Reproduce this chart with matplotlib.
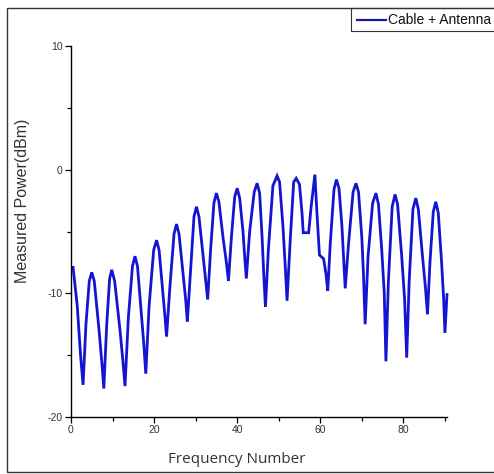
import matplotlib
matplotlib.use("Agg")
import matplotlib.pyplot as plt
from matplotlib.lines import Line2D
from matplotlib.patches import Rectangle
import matplotlib.ticker as ticker

plt.rcParams['axes.unicode_minus'] = False

# values (peak / trough positions plus shoulders)
freq_number = [
    0.5, 1.5, 2.3, 2.9, 3.6, 4.4, 5.0, 5.6, 6.7, 7.4,
    7.9, 8.6, 9.3, 9.8, 10.5, 11.8, 12.5, 13.0, 13.8, 14.8,
    15.4, 16.0, 16.9, 17.5, 18.0, 18.8, 19.9, 20.6, 21.2, 22.0,
    22.6, 23.0, 23.8, 24.8, 25.4, 26.0, 27.0, 27.6, 28.0, 28.8,
    29.6, 30.2, 30.8, 31.8, 32.4, 32.9, 33.6, 34.4, 35.0, 35.6,
    36.6, 37.4, 37.9, 38.6, 39.4, 40.0, 40.6, 41.4, 41.8, 42.2,
    43.0, 44.1, 44.8, 45.4, 46.0, 46.4, 46.8, 47.5, 48.6, 49.6,
    50.2, 51.0, 51.6, 52.0, 52.8, 53.6, 54.2, 55.0, 55.6, 55.9,
    57.2, 57.8, 58.7, 59.2, 59.8, 60.8, 61.4, 61.8, 62.4, 63.3,
    63.9, 64.5, 65.2, 65.6, 66.0, 66.8, 67.9, 68.6, 69.2, 70.0,
    70.4, 70.8, 71.5, 72.6, 73.4, 74.0, 74.8, 75.4, 75.8, 76.4,
    77.3, 78.0, 78.6, 79.6, 80.3, 80.8, 81.4, 82.3, 83.0, 83.6,
    84.6, 85.3, 85.8, 86.4, 87.2, 87.8, 88.4, 89.2, 89.7, 90.0,
    90.5,
]
measured_power = [
    -7.9, -11.0, -15.0, -17.4, -12.5, -9.0, -8.3, -9.0, -12.8, -15.5,
    -17.7, -12.5, -8.8, -8.1, -9.0, -13.0, -15.5, -17.5, -12.0, -7.8,
    -7.0, -7.8, -11.5, -14.0, -16.5, -11.0, -6.5, -5.7, -6.5, -9.5,
    -11.8, -13.5, -9.5, -5.2, -4.4, -5.2, -8.5, -10.5, -12.3, -8.0,
    -3.8, -3.0, -3.8, -7.0, -9.0, -10.5, -6.5, -2.7, -1.9, -2.6,
    -5.5, -7.5, -9.0, -5.5, -2.2, -1.5, -2.3, -5.0, -7.0, -8.8,
    -5.0, -1.8, -1.1, -1.9, -5.5, -8.5, -11.1, -6.5, -1.3, -0.5,
    -1.0, -4.5, -8.0, -10.6, -5.5, -1.0, -0.7, -1.2, -3.5, -5.1,
    -5.1, -3.0, -0.4, -3.5, -6.9, -7.2, -8.5, -9.8, -6.0, -1.6,
    -0.8, -1.5, -4.5, -7.0, -9.6, -6.0, -1.8, -1.1, -1.8, -5.5,
    -8.5, -12.5, -7.0, -2.7, -1.9, -2.8, -6.5, -10.0, -15.5, -9.0,
    -3.0, -2.0, -2.8, -7.0, -10.5, -15.2, -9.0, -3.2, -2.3, -3.2,
    -7.0, -9.5, -11.7, -7.5, -3.4, -2.6, -3.5, -7.5, -10.5, -13.2,
    -10.1,
]
x_ticks = [0, 20, 40, 60, 80]
y_ticks = [-20, -10, 0, 10]
series_label = "Cable + Antenna"

W, H = 494, 474
fig = plt.figure(figsize=(W / 100, H / 100), dpi=100)
ax = fig.add_axes([71 / W, (H - 417) / H, 376 / W, 371 / H])

line_color = "#1414d2"
ax.plot(freq_number, measured_power, color=line_color, linewidth=2.0,
        solid_joinstyle="miter", clip_on=False)

ax.set_xlim(0, 90.5)
ax.set_ylim(-20, 10)
ax.set_xticks(x_ticks)
ax.set_yticks(y_ticks)
ax.xaxis.set_minor_locator(ticker.MultipleLocator(10))
ax.yaxis.set_minor_locator(ticker.MultipleLocator(5))

for side in ("top", "right"):
    ax.spines[side].set_visible(False)
for side in ("left", "bottom"):
    ax.spines[side].set_linewidth(1.0)

tick_font = "Liberation Sans"
ax.tick_params(which="major", direction="out", length=4.5, width=0.9,
               labelsize=7.5, labelcolor="#333333", pad=1.5)
ax.tick_params(which="minor", direction="out", length=3, width=0.9)
for lab in ax.get_xticklabels() + ax.get_yticklabels():
    lab.set_fontfamily(tick_font)

ax.set_xlabel("Frequency Number", fontsize=11, family="Open Sans", color="#333333")
ax.xaxis.set_label_coords(0.441, -0.095)
ax.set_ylabel("Measured Power(dBm)", fontsize=11.5, family="Liberation Sans",
              color="#333333")
ax.yaxis.set_label_coords(-0.110, 0.582)

# outer frame (open on the right, like the cropped original)
fig.patches.append(Rectangle((7 / W, 2 / H), 1.2, (472 - 8) / H,
                             transform=fig.transFigure, fill=False,
                             edgecolor="#333333", linewidth=1.0))

# legend box, cut off at the right edge
fig.patches.append(Rectangle((351 / W, (H - 31) / H), 0.4, 23 / H,
                             transform=fig.transFigure, fill=False,
                             edgecolor="#333333", linewidth=0.8))
fig.lines.append(Line2D([357 / W, 386 / W], [(H - 19.5) / H] * 2,
                        transform=fig.transFigure, color="#1a1aa0",
                        linewidth=1.6))
fig.text(388 / W, (H - 19.5) / H, series_label, fontsize=10,
         family=tick_font, va="center", ha="left", color="#111111")

fig.savefig("out.png", dpi=100)
